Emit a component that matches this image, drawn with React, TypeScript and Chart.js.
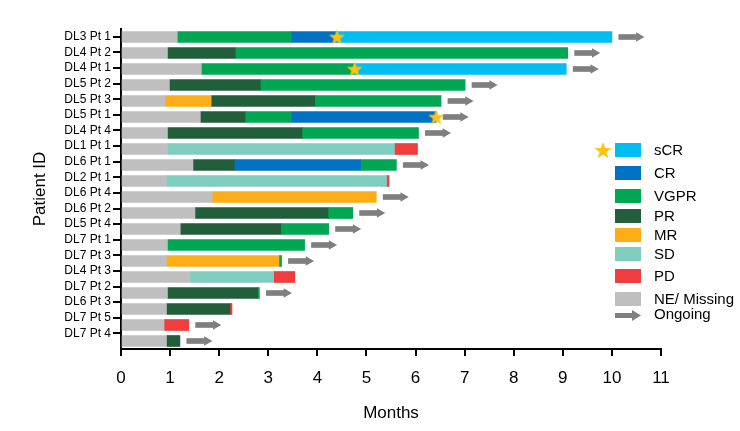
import React, { useEffect, useRef } from "react";
import { Chart, registerables } from "chart.js";

Chart.register(...registerables);

const patients = [
  "DL3 Pt 1", "DL4 Pt 2", "DL4 Pt 1", "DL5 Pt 2", "DL5 Pt 3", "DL5 Pt 1", "DL4 Pt 4",
  "DL1 Pt 1", "DL6 Pt 1", "DL2 Pt 1", "DL6 Pt 4", "DL6 Pt 2", "DL5 Pt 4", "DL7 Pt 1",
  "DL7 Pt 3", "DL4 Pt 3", "DL7 Pt 2", "DL6 Pt 3", "DL7 Pt 5", "DL7 Pt 4",
];

// response sequence per patient
const responseSeq = [
  ["NE", "VGPR", "CR", "sCR"],
  ["NE", "PR", "VGPR"],
  ["NE", "VGPR", "sCR"],
  ["NE", "PR", "VGPR"],
  ["NE", "MR", "PR", "VGPR"],
  ["NE", "PR", "VGPR", "CR"],
  ["NE", "PR", "VGPR"],
  ["NE", "SD", "PD"],
  ["NE", "PR", "CR", "VGPR"],
  ["NE", "SD", "PD"],
  ["NE", "MR"],
  ["NE", "PR", "VGPR"],
  ["NE", "PR", "VGPR"],
  ["NE", "VGPR"],
  ["NE", "MR", "VGPR"],
  ["NE", "SD", "PD"],
  ["NE", "PR", "VGPR"],
  ["NE", "PR", "PD"],
  ["NE", "PD"],
  ["NE", "PR"],
];

// month at which each response segment ends
const segmentEnds = [
  [1.16, 3.48, 4.4, 10.0],
  [0.96, 2.34, 9.1],
  [1.65, 4.76, 9.07],
  [1.0, 2.85, 7.01],
  [0.91, 1.85, 3.96, 6.52],
  [1.63, 2.54, 3.48, 6.42],
  [0.96, 3.7, 6.06],
  [0.96, 5.57, 6.04],
  [1.48, 2.32, 4.88, 5.61],
  [0.94, 5.41, 5.46],
  [1.87, 5.2],
  [1.52, 4.23, 4.72],
  [1.22, 3.27, 4.23],
  [0.96, 3.74],
  [0.94, 3.23, 3.27],
  [1.42, 3.11, 3.54],
  [0.96, 2.8, 2.82],
  [0.94, 2.22, 2.26],
  [0.89, 1.38],
  [0.94, 1.2],
];

const ongoing = [
  true, true, true, true, true, true, true, false, true, false,
  true, true, true, true, true, false, true, false, true, true,
];

const sCRStars: (number | null)[] = [
  4.4, null, 4.76, null, null, 6.42, null, null, null, null,
  null, null, null, null, null, null, null, null, null, null,
];

const xTicks = [0, 1, 2, 3, 4, 5, 6, 7, 8, 9, 10, 11];

const responses = ["sCR", "CR", "VGPR", "PR", "MR", "SD", "PD", "NE"];
const responseLabels = ["sCR", "CR", "VGPR", "PR", "MR", "SD", "PD", "NE/ Missing"];
const responseColors: Record<string, string> = {
  sCR: "#00BDF2",
  CR: "#0072C3",
  VGPR: "#00A651",
  PR: "#225E3C",
  MR: "#FDAE17",
  SD: "#7FCDBE",
  PD: "#F03D3F",
  NE: "#BFBFBF",
};
const arrowColor = "#7F7F7F";
const starColor = "#FFC20E";
const FONT = "'Liberation Sans', Arial, Helvetica, sans-serif";

function makeStar(size: number, color: string) {
  const c = document.createElement("canvas");
  c.width = size;
  c.height = size;
  const ctx = c.getContext("2d")!;
  ctx.fillStyle = color;
  ctx.beginPath();
  const cx = size / 2, cy = size / 2 + size * 0.04;
  for (let i = 0; i < 10; i++) {
    const r = i % 2 === 0 ? size * 0.5 : size * 0.2;
    const a = -Math.PI / 2 + (i * Math.PI) / 5;
    const px = cx + r * Math.cos(a), py = cy + r * Math.sin(a);
    if (i === 0) ctx.moveTo(px, py); else ctx.lineTo(px, py);
  }
  ctx.closePath();
  ctx.fill();
  return c;
}

function starPoints(cx: number, cy: number, R: number) {
  const pts: string[] = [];
  for (let i = 0; i < 10; i++) {
    const r = i % 2 === 0 ? R : R * 0.4;
    const a = -Math.PI / 2 + (i * Math.PI) / 5;
    pts.push(`${(cx + r * Math.cos(a)).toFixed(2)},${(cy + r * Math.sin(a)).toFixed(2)}`);
  }
  return pts.join(" ");
}

export default function App() {
  const ref = useRef<HTMLCanvasElement>(null);

  useEffect(() => {
    if (!ref.current) return;
    Chart.defaults.font.family = FONT;
    Chart.defaults.color = "#000";

    const barSets: any[] = responses.map((resp) => ({
      type: "bar",
      label: resp,
      data: patients.map((_, i) => {
        const k = responseSeq[i].indexOf(resp);
        if (k < 0) return null;
        const start = k === 0 ? 0 : segmentEnds[i][k - 1];
        return [start, segmentEnds[i][k]];
      }),
      backgroundColor: responseColors[resp],
      borderWidth: 0,
      barThickness: 11,
      grouped: false,
      order: 2,
    }));

    const lastEnd = (i: number) => segmentEnds[i][segmentEnds[i].length - 1];

    const shaftSet: any = {
      type: "bar",
      label: "Ongoing",
      data: patients.map((_, i) => (ongoing[i] ? [lastEnd(i) + 0.14, lastEnd(i) + 0.5] : null)),
      backgroundColor: arrowColor,
      borderWidth: 0,
      barThickness: 5,
      grouped: false,
      order: 2,
    };

    const headSet: any = {
      type: "scatter",
      label: "OngoingHead",
      data: patients
        .map((p, i) => (ongoing[i] ? { x: lastEnd(i) + 0.55, y: p } : null))
        .filter((d) => d !== null),
      pointStyle: "triangle",
      rotation: 90,
      radius: 5.5,
      backgroundColor: arrowColor,
      borderWidth: 0,
      order: 1,
    };

    const starSet: any = {
      type: "scatter",
      label: "sCR start",
      data: patients
        .map((p, i) => (sCRStars[i] !== null ? { x: sCRStars[i], y: p } : null))
        .filter((d) => d !== null),
      pointStyle: makeStar(17, starColor),
      radius: 8,
      order: 0,
    };

    const chart = new Chart(ref.current, {
      type: "bar",
      data: {
        labels: patients,
        datasets: [...barSets, shaftSet, headSet, starSet],
      },
      options: {
        indexAxis: "y",
        responsive: false,
        animation: false,
        layout: { padding: { left: 0, right: 79, top: 29, bottom: 0 } },
        plugins: { legend: { display: false }, tooltip: { enabled: false } },
        scales: {
          x: {
            type: "linear",
            min: 0,
            max: 11,
            afterFit: (s: any) => { s.height = 82; },
            afterBuildTicks: (s: any) => { s.ticks = xTicks.map((v) => ({ value: v })); },
            ticks: { font: { size: 17 }, padding: 12, color: "#000" },
            grid: { drawOnChartArea: false, drawTicks: true, tickLength: 7, color: "#000", lineWidth: 2 },
            border: { display: true, color: "#000", width: 2 },
            title: { display: true, text: "Months", font: { size: 17 }, padding: { top: 0, bottom: 7 }, color: "#000" },
          },
          y: {
            type: "category",
            display: false,
          },
          yLabels: {
            type: "linear",
            position: "left",
            reverse: true,
            offset: false,
            min: -0.5,
            max: 20,
            afterFit: (s: any) => { s.width = 121; },
            afterBuildTicks: (s: any) => { s.ticks = patients.map((_, i) => ({ value: i })); },
            ticks: {
              font: { size: 12 },
              padding: 2,
              color: "#000",
              autoSkip: false,
              callback: (v: any) => patients[Math.round(Number(v))] ?? "",
            },
            grid: { offset: false, drawOnChartArea: false, drawTicks: true, tickLength: 8, color: "#000", lineWidth: 2 },
            border: { display: true, color: "#000", width: 2 },
            title: { display: true, text: "Patient ID", font: { size: 17 }, padding: { top: 30, bottom: 0 }, color: "#000" },
          },
        },
      } as any,
    });
    return () => chart.destroy();
  }, []);

  const legendTop = [143, 166, 189, 209, 228, 247, 269, 292];

  return (
    <div style={{ position: "fixed", left: 0, top: 0, width: 740, height: 431, background: "#fff", fontFamily: FONT }}>
      <canvas ref={ref} width={740} height={431} style={{ display: "block" }} />
      <svg width={740} height={431} style={{ position: "absolute", left: 0, top: 0, pointerEvents: "none" }}>
        <polygon points={starPoints(603, 151, 9)} fill={starColor} />
        {responses.map((r, i) => (
          <rect key={r} x={615} y={legendTop[i]} width={26} height={14} fill={responseColors[r]} />
        ))}
        <rect x={615} y={313} width={18} height={5} fill={arrowColor} />
        <polygon points="632,310 641,315.5 632,321" fill={arrowColor} />
      </svg>
      {responseLabels.map((t, i) => (
        <div
          key={t}
          style={{ position: "absolute", left: 654, top: legendTop[i] - 2, fontSize: 15, lineHeight: "18px", color: "#000", whiteSpace: "nowrap" }}
        >
          {t}
        </div>
      ))}
      <div style={{ position: "absolute", left: 654, top: 305, fontSize: 15, lineHeight: "18px", color: "#000", whiteSpace: "nowrap" }}>
        Ongoing
      </div>
    </div>
  );
}
